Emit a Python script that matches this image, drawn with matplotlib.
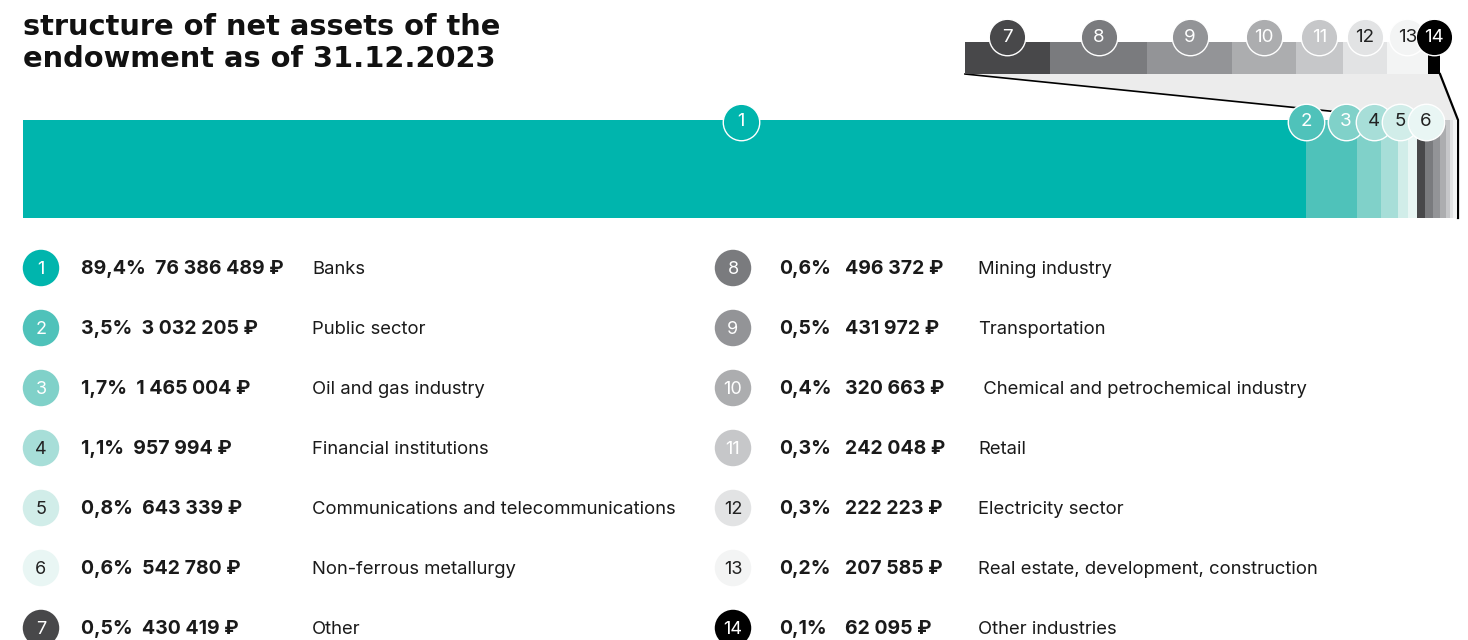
import matplotlib
matplotlib.use('Agg')
import matplotlib.pyplot as plt
from matplotlib.patches import Polygon
import matplotlib.transforms as mtransforms

# ---------------- data ----------------
numbers = list(range(1, 15))
percents = ['89,4%', '3,5%', '1,7%', '1,1%', '0,8%', '0,6%', '0,5%',
            '0,6%', '0,5%', '0,4%', '0,3%', '0,3%', '0,2%', '0,1%']
amounts = [76386489, 3032205, 1465004, 957994, 643339, 542780, 430419,
           496372, 431972, 320663, 242048, 222223, 207585, 62095]
sectors = ['Banks', 'Public sector', 'Oil and gas industry', 'Financial institutions',
           'Communications and telecommunications', 'Non-ferrous metallurgy', 'Other',
           'Mining industry', 'Transportation', ' Chemical and petrochemical industry',
           'Retail', 'Electricity sector', 'Real estate, development, construction',
           'Other industries']
colors = ['#00b5ad', '#4fc2ba', '#80d1c9', '#a7ded8', '#d1ede9', '#e9f6f4',
          '#48484a', '#7a7b7e', '#939497', '#acadaf', '#c6c7c9', '#e2e3e4',
          '#f3f4f4', '#000000']
num_colors = ['white', 'white', 'white', '#222222', '#222222', '#222222',
              'white', 'white', 'white', 'white', 'white', '#222222', '#222222', 'white']
title_lines = ['structure of net assets of the', 'endowment as of 31.12.2023']

amount_labels = [f"{v:,}".replace(',', ' ') + ' \u20bd' for v in amounts]

# ---------------- layout ----------------
W, H = 1468, 640
FONT = ['Inter', 'DejaVu Sans']
TXT = '#1a1a1a'


def fa(x0, y0, x1, y1):
    return [x0 / W, 1 - y1 / H, (x1 - x0) / W, (y1 - y0) / H]


fig = plt.figure(figsize=(W / 100, H / 100), dpi=100)
fig.patch.set_facecolor('white')

ov = fig.add_axes([0, 0, 1, 1])
ov.set_xlim(0, W)
ov.set_ylim(H, 0)
ov.axis('off')

# main stacked bar
total = sum(amounts)
ax = fig.add_axes(fa(23, 120, 1458, 218))
lefts = []
acc = 0
for v in amounts:
    lefts.append(acc)
    acc += v
ax.barh([0] * len(amounts), amounts, left=lefts, height=1.0, color=colors, linewidth=0)
ax.set_xlim(0, total)
ax.set_ylim(-0.5, 0.5)
ax.axis('off')

# zoom bar (items 7-14)
z_vals = amounts[6:]
z_cols = colors[6:]
z_total = sum(z_vals)
az = fig.add_axes(fa(965, 42, 1440, 74))
z_lefts = []
acc = 0
for v in z_vals:
    z_lefts.append(acc)
    acc += v
az.barh([0] * len(z_vals), z_vals, left=z_lefts, height=1.0, color=z_cols, linewidth=0)
az.set_xlim(0, z_total)
az.set_ylim(-0.5, 0.5)
az.axis('off')

# connector polygon
inv = ov.transData.inverted()
zl = inv.transform(az.transData.transform((0, -0.5)))
zr = inv.transform(az.transData.transform((z_total, -0.5)))
m6 = inv.transform(ax.transData.transform((lefts[6], 0.5)))
mrt = inv.transform(ax.transData.transform((total, 0.5)))
mrb = inv.transform(ax.transData.transform((total, -0.5)))
ov.add_patch(Polygon([zl, zr, mrt, m6], closed=True, facecolor='#ececec',
                     edgecolor='none', zorder=0))
ov.plot([zl[0], m6[0]], [zl[1], m6[1]], color='black', lw=1.2, zorder=1)
ov.plot([zr[0], mrt[0], mrb[0]], [zr[1], mrt[1], mrb[1]], color='black', lw=1.6,
        zorder=1, solid_joinstyle='miter')

S = 690  # marker size for ~18 px radius circles


def bubble(axis, x, y, idx, dx=0, dy=0, fs=13):
    tr = mtransforms.offset_copy(axis.transData, fig=fig, x=dx, y=dy, units='dots')
    axis.scatter([x], [y], s=S, color=colors[idx], edgecolors='white', linewidths=1.0,
                 transform=tr, clip_on=False, zorder=5)
    axis.text(x, y, str(numbers[idx]), transform=tr, ha='center', va='center',
              fontsize=fs, color=num_colors[idx], family=FONT, zorder=6, clip_on=False)


# bubbles on main bar
bubble(ax, total / 2, 0.5, 0, dy=-2)
offsets = [0, 40, 68, 94, 120]
for k, off in zip(range(1, 6), offsets):
    bubble(ax, lefts[1], 0.5, k, dx=off, dy=-2, fs=13.5)

# bubbles on zoom bar
for j, (l, v) in enumerate(zip(z_lefts, z_vals)):
    bubble(az, l + v / 2, 0.5, 6 + j, dy=5, fs=13.5)

# title
for i, line in enumerate(title_lines):
    ov.text(23, 35 + 32 * i, line, fontsize=20.8, fontweight='bold', color='#111111',
            family=['DejaVu Sans'], ha='left', va='baseline')

# legend
for i in range(14):
    col = i // 7
    row = i % 7
    y = 268 + 60 * row
    ty = y + 1.5
    if col == 0:
        cx, px, ax_x, lx = 41, 81, None, 312
    else:
        cx, px, ax_x, lx = 733, 779, 845, 978
    ov.scatter([cx], [y], s=S, color=colors[i], edgecolors='none', zorder=3)
    ov.text(cx, ty, str(numbers[i]), ha='center', va='center', fontsize=13,
            color=num_colors[i], family=FONT, zorder=4)
    if ax_x is None:
        ov.text(px, ty, percents[i] + '  ' + amount_labels[i], ha='left', va='center',
                fontsize=14, fontweight='bold', color=TXT, family=FONT)
    else:
        ov.text(px, ty, percents[i], ha='left', va='center',
                fontsize=14, fontweight='bold', color=TXT, family=FONT)
        ov.text(ax_x, ty, amount_labels[i], ha='left', va='center',
                fontsize=14, fontweight='bold', color=TXT, family=FONT)
    ov.text(lx, ty, sectors[i], ha='left', va='center', fontsize=13.3,
            color=TXT, family=FONT)

fig.savefig('out.png', dpi=100, facecolor='white')
